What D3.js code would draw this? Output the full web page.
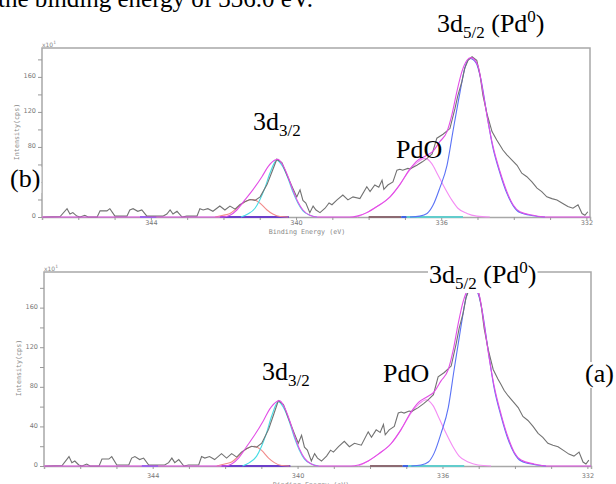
<!DOCTYPE html>
<html>
<head>
<meta charset="utf-8">
<script src="https://cdn.jsdelivr.net/npm/d3@7"></script>
<style>
html, body { margin: 0; padding: 0; background: #fff; }
svg { display: block; }
text { white-space: pre; }
</style>
</head>
<body>
<svg id="chart" width="616" height="484"></svg>
<script>
// measured spectrum: [binding energy (eV), intensity (x10 cps)]
const spectrum = [
  [346.97,0],[346.50,0.5],[346.31,9.5],[346.23,3.4],[346.15,5],[346.04,1],[345.95,0],[345.82,2],
  [345.73,0],[345.48,0],[345.40,7],[345.21,7],[345.13,9.5],[344.99,1],[344.66,1],[344.58,8],
  [344.49,9.5],[344.36,6.5],[344.25,8],[344.11,1],[343.94,1],[343.67,1],[343.56,3.4],[343.47,8],
  [343.39,3.4],[343.28,6.5],[343.14,0],[343.01,1],[342.73,1],[342.65,9.5],[342.56,8],[342.43,9.5],
  [342.29,6.5],[342.10,12.5],[341.96,8],[341.82,12.5],[341.68,9],[341.55,14],[341.41,17.5],[341.27,20],
  [341.13,19],[340.99,23],[340.80,37],[340.66,52],[340.53,66],[340.39,62],[340.25,48],[340.09,33],
  [339.98,23],[339.89,31],[339.81,19],[339.73,16],[339.62,5],[339.53,12.5],[339.45,8],[339.34,5],
  [339.20,10],[339.09,16],[339.01,14],[338.87,19.5],[338.71,25],[338.57,19.5],[338.43,23],[338.24,21],
  [338.05,34.5],[337.96,29],[337.83,36.5],[337.72,34],[337.63,42],[337.58,31.5],[337.47,36.5],[337.33,40],
  [337.22,53.5],[337.14,54.5],[337.06,53.5],[336.92,55.5],[336.86,55],[336.67,59],[336.52,63],[336.39,67],
  [336.25,72],[336.12,90],[335.95,94.5],[335.76,101],[335.62,124],[335.54,139],[335.43,154.5],[335.35,170],
  [335.26,179],[335.15,183],[335.02,179],[334.93,162],[334.85,139],[334.74,118],[334.60,97.5],[334.47,88],
  [334.38,82],[334.30,76.5],[334.19,71],[334.05,65],[333.91,59],[333.78,50],[333.64,46],[333.50,40],
  [333.36,33],[333.23,29],[333.09,23],[332.95,21],[332.81,19.5],[332.65,15.5],[332.51,12],[332.37,10],
  [332.23,14],[332.12,4],[332.04,2],[331.96,6]
];

// total fit (envelope)
const envelope = [
  [347.0,0],[342.01,0],[341.82,2],[341.63,8],[341.41,19.5],[341.19,31],[340.94,46],[340.77,57.5],
  [340.58,65],[340.50,66],[340.36,59],[340.22,46],[340.09,31],[339.95,17.5],[339.81,8],[339.62,2],
  [339.42,0],[338.52,0],[338.32,1],[338.05,5],[337.77,12],[337.41,23],[337.14,37],[336.86,55],
  [336.64,65],[336.42,70],[336.23,75],[336.04,86],[335.84,97.5],[335.71,116],[335.57,143],[335.43,166],
  [335.29,179],[335.18,182],[334.99,173],[334.85,143],[334.71,109],[334.58,82],[334.38,52],[334.19,29],
  [334.02,14],[333.83,6],[333.47,2],[333.14,0],[331.9,0]
];

// Pd0 3d5/2 component
const pd0d52 = [
  [336.86,0],[336.59,1],[336.39,4],[336.23,13],[336.04,33],[335.84,59],[335.68,97],[335.48,143],
  [335.35,170],[335.21,181],[335.04,176],[334.91,158],[334.74,117],[334.58,80],[334.38,50],[334.19,27],
  [334.02,13],[333.83,5],[333.47,1.5],[333.14,0]
];

// PdO 3d5/2 component
const pdod52 = [
  [338.32,0],[338.05,5],[337.77,12],[337.41,23],[337.14,37],[336.86,54],[336.64,63],[336.45,67],
  [336.26,61],[336.09,48],[335.90,33],[335.71,19.5],[335.54,10],[335.29,4],[335.02,1],[334.66,0]
];

// Pd0 3d3/2 component
const pd0d32 = [
  [341.52,0],[341.33,3.4],[341.13,10],[341.00,19.5],[340.86,33],[340.72,50],[340.53,65],[340.36,57],
  [340.22,44],[340.09,29],[339.95,16],[339.81,7],[339.62,2],[339.42,0]
];

// PdO 3d3/2 component
const pdod32 = [
  [342.23,0],[342.01,2],[341.82,4],[341.63,10],[341.41,17.5],[341.19,20],[341.00,16],[340.80,8],
  [340.64,3.4],[340.44,0.5],[340.22,0]
];

const xMajor = [344, 340, 336, 332];
const yMajor = [0, 40, 80, 120, 160];

// coloured pieces of the fit baselines
const baseSegs = [
  [344.30, 343.85, "#5a78ee"],
  [342.10, 340.20, "#6b3fc9"],
  [338.00, 337.10, "#8c6a72"],
  [337.10, 336.95, "#3f62e6"],
  [336.95, 335.40, "#62cccc"]
];

const SERIF = "'Liberation Serif', 'Times New Roman', serif";
const SANS = "'DejaVu Sans', sans-serif";
const MONO = "'DejaVu Sans Mono', monospace";

const svg = d3.select("#chart");

// sentence cut off at the top of the scan
svg.append("text")
    .attr("x", -2)
    .attr("y", 7)
    .attr("font-family", SERIF)
    .attr("font-size", 25)
    .text("the binding energy of 336.0 eV.");

function richText(parent, x, y, parts, bg) {
    const t = parent.append("text")
        .attr("x", x)
        .attr("y", y)
        .attr("font-family", SERIF)
        .attr("font-size", 26)
        .attr("fill", "#000");
    let off = 0;
    parts.forEach(p => {
        const target = p.sub ? 6 : p.sup ? -10 : 0;
        t.append("tspan")
            .attr("dy", target - off)
            .attr("font-size", (p.sub || p.sup) ? 17 : 26)
            .text(p.t);
        off = target;
    });
    if (bg) {
        const b = t.node().getBBox();
        parent.insert("rect", () => t.node())
            .attr("x", b.x - 1)
            .attr("y", b.y + 3)
            .attr("width", b.width + 2)
            .attr("height", b.height - 3)
            .attr("fill", "#fff");
    }
}

function drawPanel(p) {
    const x = d3.scaleLinear().domain([347, 331.9]).range([p.left, p.right]);
    const y = d3.scaleLinear().domain([0, p.yMax]).range([p.bottom, p.top]);
    const g = svg.append("g");

    // frame
    g.append("path")
        .attr("d", `M${p.left},${p.bottom}V${p.top}H${p.right}V${p.bottom}`)
        .attr("fill", "none")
        .attr("stroke", "#a8a8a8")
        .attr("stroke-width", 1.5);

    const xAxis = d3.axisBottom(x)
        .tickValues(d3.range(332, 347))
        .tickSize(3)
        .tickFormat(d => xMajor.includes(d) ? d : "");
    const gx = g.append("g")
        .attr("transform", `translate(0,${p.bottom})`)
        .call(xAxis);
    gx.select(".domain").attr("stroke", "#a8a8a8").attr("stroke-width", 1.5);
    gx.selectAll(".tick line").attr("stroke", "#999");
    gx.selectAll(".tick text")
        .attr("y", p.xLab)
        .attr("dy", 0)
        .attr("font-family", SANS)
        .attr("font-size", 6.5)
        .attr("fill", "#777");

    // the "40" label of panel (b) sits under the "(b)" tag in the scan
    const yAxis = d3.axisLeft(y)
        .tickValues(d3.range(0, 181, 20))
        .tickSize(4)
        .tickFormat(d => yMajor.includes(d) && !p.hide.includes(d) ? d : "");
    const gy = g.append("g")
        .attr("transform", `translate(${p.left},0)`)
        .call(yAxis);
    gy.select(".domain").remove();
    gy.selectAll(".tick line").attr("stroke", "#999");
    gy.selectAll(".tick text")
        .attr("x", -6)
        .attr("dy", "0.15em")
        .attr("font-family", SANS)
        .attr("font-size", 6.5)
        .attr("fill", "#777");

    // x10^1 multiplier
    const m = g.append("text")
        .attr("x", p.left)
        .attr("y", p.top - 1)
        .attr("font-family", SANS)
        .attr("font-size", 6)
        .attr("fill", "#888")
        .text("x10");
    m.append("tspan").attr("dy", -3).attr("font-size", 4.5).text("1");

    g.append("text")
        .attr("x", p.xTitleX)
        .attr("y", p.bottom + p.xTitle)
        .attr("text-anchor", "middle")
        .attr("font-family", MONO)
        .attr("font-size", 6.7)
        .attr("fill", "#888")
        .text("Binding Energy (eV)");

    g.append("text")
        .attr("transform", `translate(${p.left - 23},${p.yTitle}) rotate(-90)`)
        .attr("text-anchor", "middle")
        .attr("font-family", MONO)
        .attr("font-size", 6.7)
        .attr("fill", "#888")
        .text("Intensity(cps)");

    const line = d3.line()
        .x(d => x(d[0]))
        .y(d => y(d[1]));
    const smooth = d3.line()
        .x(d => x(d[0]))
        .y(d => y(d[1]))
        .curve(d3.curveMonotoneX);

    const curves = g.append("g").attr("fill", "none");

    baseSegs.forEach(s => {
        curves.append("line")
            .attr("x1", x(s[0])).attr("x2", x(s[1]))
            .attr("y1", y(0)).attr("y2", y(0))
            .attr("stroke", s[2])
            .attr("stroke-width", 2);
    });

    const fits = [
        [pdod32, "#f28a8a"],
        [pd0d32, "#46dce4"],
        [pdod52, "#f48cf4"],
        [pd0d52, "#5a72f6"]
    ];
    fits.forEach(f => {
        curves.append("path")
            .attr("d", smooth(f[0]))
            .attr("stroke", f[1])
            .attr("stroke-width", 1.1);
    });

    curves.append("path")
        .attr("d", line(spectrum))
        .attr("stroke", "#727272")
        .attr("stroke-width", 1.1);

    curves.append("path")
        .attr("d", smooth(envelope))
        .attr("stroke", "#e24ee6")
        .attr("stroke-width", 1.1);

    return g;
}

const panelB = {left: 42, right: 590, top: 48, bottom: 217, yMax: 193, xLab: 8, xTitle: 17, xTitleX: 307, yTitle: 132, hide: [40]};
const panelA = {left: 44, right: 591, top: 272, bottom: 466, yMax: 196, xLab: 12, xTitle: 21, xTitleX: 311, yTitle: 368, hide: []};

const gB = drawPanel(panelB);
const gA = drawPanel(panelA);

const d52 = [{t: "3d"}, {t: "5/2", sub: true}, {t: " (Pd"}, {t: "0", sup: true}, {t: ")"}];
const d32 = [{t: "3d"}, {t: "3/2", sub: true}];

richText(gB, 437, 32, d52, false);
richText(gB, 253, 130, d32, false);
richText(gB, 396, 158, [{t: "PdO"}], false);
richText(gB, 10, 187, [{t: "(b)"}], true);

richText(gA, 429, 283, d52, true);
richText(gA, 262, 380, d32, false);
richText(gA, 383, 382, [{t: "PdO"}], false);
richText(gA, 585, 382, [{t: "(a)"}], true);
</script>
</body>
</html>
